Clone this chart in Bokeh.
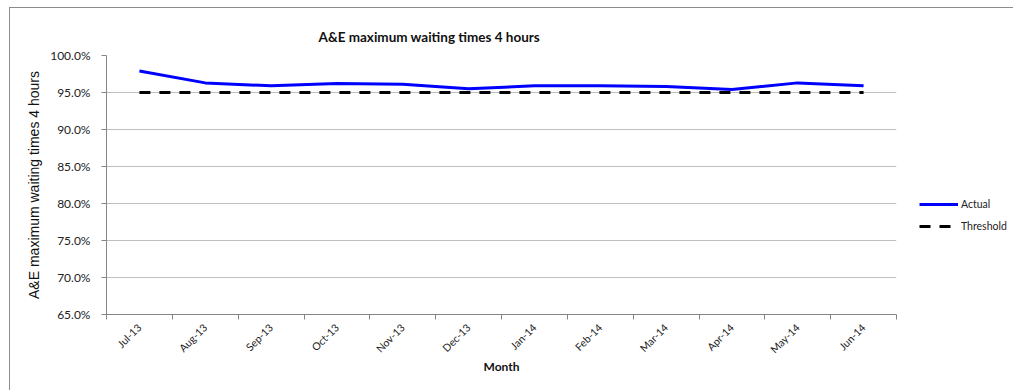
import math

from bokeh.plotting import figure
from bokeh.layouts import row
from bokeh.models import (ColumnDataSource, Range1d, FixedTicker, PrintfTickFormatter,
                          Legend, LegendItem)
from bokeh.embed import file_html
from bokeh.resources import INLINE

# Monthly share of A&E attendances seen within 4 hours (%)
months = ["Jul-13", "Aug-13", "Sep-13", "Oct-13", "Nov-13", "Dec-13",
          "Jan-14", "Feb-14", "Mar-14", "Apr-14", "May-14", "Jun-14"]
actual = [97.9, 96.3, 95.9, 96.2, 96.1, 95.5, 95.9, 95.9, 95.8, 95.4, 96.3, 95.9]
threshold = [95.0, 95.0, 95.0, 95.0, 95.0, 95.0, 95.0, 95.0, 95.0, 95.0, 95.0, 95.0]
y_ticks = [65, 70, 75, 80, 85, 90, 95, 100]

# each month sits in the middle of its own slot; slot edges carry the tick marks
x_pos = [i + 0.5 for i in range(len(months))]
slot_edges = list(range(len(months) + 1))

src = ColumnDataSource(dict(x=x_pos, month=months, actual=actual, threshold=threshold))

LABEL_FONT = "Lato"
AXIS_GREY = "#868686"
ACTUAL_STYLE = dict(line_color="#0000ff", line_width=3, line_join="round")
THRESHOLD_STYLE = dict(line_color="black", line_width=3, line_dash="11 9", line_cap="butt")

p = figure(width=900, height=390, output_backend="svg", toolbar_location=None,
           x_range=Range1d(0, len(months)), y_range=Range1d(y_ticks[0], y_ticks[-1]),
           min_border_left=106, min_border_right=4, min_border_top=55, min_border_bottom=76)
p.outline_line_color = None
p.background_fill_color = "white"
p.border_fill_color = "white"

p.title.text = "A&E maximum waiting times 4 hours"
p.title.align = "left"
p.title.offset = 212
p.title.text_font = LABEL_FONT
p.title.text_font_style = "bold"
p.title.text_font_size = "13.5px"
p.title.text_color = "#111111"
p.title.standoff = 22

# x axis: month names centred in slots, small ticks on slot boundaries
xa = p.xaxis[0]
xa.ticker = FixedTicker(ticks=x_pos, minor_ticks=slot_edges)
xa.major_label_overrides = {x: m for x, m in zip(x_pos, months)}
xa.major_tick_in = 0
xa.major_tick_out = 0
xa.minor_tick_in = 0
xa.minor_tick_out = 5
xa.minor_tick_line_color = AXIS_GREY
xa.axis_line_color = AXIS_GREY
xa.major_label_orientation = math.pi / 4
xa.major_label_text_font = LABEL_FONT
xa.major_label_text_font_size = "10.5px"
xa.major_label_text_color = "#222222"
xa.major_label_standoff = 6
xa.axis_label = "Month"
xa.axis_label_text_font = LABEL_FONT
xa.axis_label_text_font_style = "bold"
xa.axis_label_text_font_size = "12px"
xa.axis_label_text_color = "#111111"
xa.axis_label_standoff = -4

# y axis: percentages in 5-point steps
ya = p.yaxis[0]
ya.ticker = FixedTicker(ticks=y_ticks, minor_ticks=[])
ya.formatter = PrintfTickFormatter(format="%.1f%%")
ya.major_tick_in = 0
ya.major_tick_out = 5
ya.major_tick_line_color = AXIS_GREY
ya.axis_line_color = AXIS_GREY
ya.major_label_text_font = LABEL_FONT
ya.major_label_text_font_size = "12px"
ya.major_label_text_color = "#222222"
ya.major_label_standoff = 11
ya.axis_label = "A&E maximum waiting times 4 hours"
ya.axis_label_text_font = "Liberation Sans"
ya.axis_label_text_font_style = "normal"
ya.axis_label_text_font_size = "14px"
ya.axis_label_text_color = "#111111"
ya.axis_label_standoff = 5

p.xgrid.visible = False
p.ygrid.ticker = FixedTicker(ticks=y_ticks, minor_ticks=[])
p.ygrid.grid_line_color = "#bfbfbf"
p.ygrid.grid_line_width = 1

p.line("x", "threshold", source=src, **THRESHOLD_STYLE)
p.line("x", "actual", source=src, **ACTUAL_STYLE)

# key panel to the right of the plot area; its series renderers are hidden,
# only their legend samples are shown
key = figure(width=113, height=390, output_backend="svg", toolbar_location=None,
             x_range=Range1d(0, len(months)), y_range=Range1d(y_ticks[0], y_ticks[-1]),
             min_border_left=0, min_border_right=0, min_border_top=0, min_border_bottom=0)
key.axis.visible = False
key.grid.visible = False
key.outline_line_color = None
key.background_fill_color = "white"
key.border_fill_color = "white"
k_act = key.line("x", "actual", source=src, visible=False, **ACTUAL_STYLE)
k_thr = key.line("x", "threshold", source=src, visible=False, **THRESHOLD_STYLE)
legend = Legend(items=[LegendItem(label="Actual", renderers=[k_act]),
                       LegendItem(label="Threshold", renderers=[k_thr])],
                location=(19, 78), glyph_width=39, glyph_height=20, spacing=2,
                label_standoff=3, padding=0, margin=0,
                label_text_font=LABEL_FONT, label_text_font_size="10.5px",
                label_text_color="#222222", inactive_fill_alpha=0,
                border_line_color=None, background_fill_alpha=0)
key.add_layout(legend)

layout = row(p, key, spacing=0)

html = file_html(layout, INLINE)
# thin grey rule along the left and top of the chart sheet
chart_frame = ('<style>html,body{margin:0;overflow:hidden}</style>'
               '<div style="position:fixed;left:9px;top:7px;width:2000px;height:2000px;'
               'border-left:1px solid #8c8c8c;border-top:1px solid #8c8c8c;'
               'pointer-events:none"></div>')
html = html.replace("</body>", chart_frame + "</body>")
open("out.html", "w").write(html)
